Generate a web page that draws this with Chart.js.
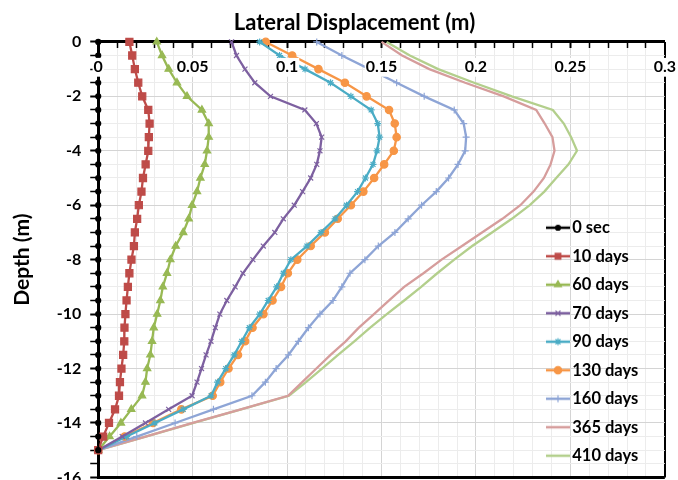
<!DOCTYPE html>
<html>
<head>
<meta charset="utf-8">
<script src="https://cdn.jsdelivr.net/npm/chart.js@4.4.0/dist/chart.umd.min.js"></script>
<style>
  html, body { margin: 0; padding: 0; background: #fff; overflow: hidden; }
  #wrap { position: relative; width: 678px; height: 496px; }
</style>
</head>
<body>
<div id="wrap"><canvas id="myChart"></canvas></div>
<script>
// depth of each reading (m)
var depths = [0, -0.5, -1, -1.5, -2, -2.5, -3, -3.5, -4, -4.5, -5, -5.5, -6, -6.5, -7, -7.5,
  -8, -8.5, -9, -9.5, -10, -10.5, -11, -11.5, -12, -12.5, -13, -13.5, -14, -14.5, -15];

// lateral displacement (m)
var sec0 = [0, 0, 0, 0, 0, 0, 0, 0, 0, 0, 0, 0, 0, 0, 0, 0, 0, 0, 0, 0, 0, 0, 0, 0, 0, 0, 0, 0, 0, 0, 0];
var days10 = [0.0165, 0.018, 0.0194, 0.0212, 0.0233, 0.0265, 0.0272, 0.0268, 0.0265, 0.0251, 0.0237, 0.0229, 0.0215, 0.0206, 0.0194, 0.0189,
  0.0176, 0.0165, 0.0157, 0.015, 0.0144, 0.0139, 0.0138, 0.0132, 0.0123, 0.0115, 0.011, 0.0089, 0.0057, 0.0026, 0];
var days60 = [0.031, 0.0338, 0.0373, 0.0417, 0.047, 0.0549, 0.0585, 0.0585, 0.0576, 0.0564, 0.0541, 0.0523, 0.0497, 0.0479, 0.045, 0.041,
  0.0382, 0.0364, 0.0342, 0.0329, 0.0312, 0.0294, 0.0285, 0.0276, 0.0259, 0.025, 0.0232, 0.0175, 0.012, 0.006, 0];
var days70 = [0.0706, 0.0732, 0.0777, 0.0829, 0.0912, 0.1094, 0.1155, 0.1183, 0.1174, 0.1157, 0.1125, 0.1082, 0.1038, 0.098, 0.0935, 0.0874,
  0.0819, 0.0766, 0.0725, 0.0681, 0.0644, 0.062, 0.0597, 0.0571, 0.0547, 0.0523, 0.0497, 0.0373, 0.025, 0.0127, 0];
var days90 = [0.0855, 0.096, 0.1095, 0.123, 0.1338, 0.1445, 0.148, 0.149, 0.1476, 0.1455, 0.1415, 0.1373, 0.1315, 0.1254, 0.118, 0.1105,
  0.102, 0.098, 0.0945, 0.09, 0.0855, 0.08, 0.076, 0.072, 0.0675, 0.0632, 0.0598, 0.045, 0.03, 0.015, 0];
var days130 = [0.0887, 0.1027, 0.1166, 0.1306, 0.1421, 0.154, 0.157, 0.158, 0.1565, 0.1514, 0.1461, 0.1404, 0.1338, 0.1268, 0.12, 0.1125,
  0.1054, 0.1004, 0.0968, 0.0923, 0.0875, 0.0817, 0.0778, 0.074, 0.069, 0.0646, 0.0606, 0.044, 0.029, 0.014, 0];
var days160 = [0.1157, 0.129, 0.1436, 0.158, 0.1726, 0.1885, 0.1935, 0.1948, 0.1943, 0.1905, 0.1855, 0.179, 0.1712, 0.1641, 0.1571, 0.1483,
  0.1412, 0.1333, 0.129, 0.1243, 0.1174, 0.1113, 0.106, 0.1007, 0.0942, 0.0885, 0.0814, 0.061, 0.0407, 0.0204, 0];
var days365 = [0.15, 0.1609, 0.1753, 0.1943, 0.2147, 0.2319, 0.2364, 0.2405, 0.2416, 0.2395, 0.236, 0.2305, 0.2235, 0.214, 0.2032, 0.1926,
  0.1818, 0.1722, 0.162, 0.154, 0.146, 0.138, 0.131, 0.123, 0.1155, 0.108, 0.1005, 0.0755, 0.05, 0.025, 0];
var days410 = [0.1527, 0.165, 0.18, 0.199, 0.219, 0.2407, 0.2465, 0.2504, 0.2535, 0.249, 0.2425, 0.2362, 0.2285, 0.219, 0.2085, 0.198,
  0.1885, 0.1795, 0.171, 0.162, 0.1528, 0.144, 0.1356, 0.127, 0.1185, 0.11, 0.101, 0.0757, 0.0505, 0.0252, 0];

var seriesNames = ["0 sec", "10 days", "60 days", "70 days", "90 days", "130 days", "160 days", "365 days", "410 days"];
var seriesValues = [sec0, days10, days60, days70, days90, days130, days160, days365, days410];

// styles
var seriesColors = ["#000000", "#BE4B48", "#98B954", "#7D60A0", "#4AACC5", "#F79646", "#8EA5D6", "#D69D9C", "#B3CF8C"];
var seriesMarkers = ["circle", "rect", "triangle", "crossRot", "star", "circle", "cross", "circle", "circle"];
var markerSizes = [2.5, 5, 4.2, 3.5, 3.5, 3.7, 3.5, 0, 0];

Chart.defaults.font.family = "Lato, 'DejaVu Sans', sans-serif";
Chart.defaults.font.weight = "bold";
Chart.defaults.color = "#000";

function legendIcon(color, style, radius) {
  var c = document.createElement("canvas");
  c.width = 24;
  c.height = 12;
  var g = c.getContext("2d");
  g.strokeStyle = color;
  g.lineWidth = 2.5;
  g.beginPath();
  g.moveTo(0, 6);
  g.lineTo(24, 6);
  g.stroke();
  if (radius > 0 && Chart.helpers && Chart.helpers.drawPoint) {
    g.fillStyle = color;
    g.lineWidth = 1.2;
    Chart.helpers.drawPoint(g, { pointStyle: style, radius: Math.min(radius, 4), rotation: 0, borderWidth: 1.2 }, 12, 6);
  }
  return c;
}

var datasets = seriesNames.map(function (name, i) {
  return {
    label: name,
    data: depths.map(function (d, k) { return { x: seriesValues[i][k], y: d }; }),
    showLine: true,
    borderColor: seriesColors[i],
    backgroundColor: seriesColors[i],
    borderWidth: i === 0 ? 2 : 2.3,
    pointStyle: seriesMarkers[i],
    pointRadius: markerSizes[i],
    pointBorderWidth: 1.2,
    pointHoverRadius: markerSizes[i],
    clip: false
  };
});

var legendIcons = seriesNames.map(function (n, i) {
  return legendIcon(seriesColors[i], seriesMarkers[i], markerSizes[i]);
});

// put the legend inside the plot, lower right, and centre the title like the original
var placeBoxes = {
  id: "placeBoxes",
  afterLayout: function (chart) {
    var lg = chart.legend;
    var w = lg.width, h = lg.height;
    lg.left = 540;
    lg.right = lg.left + w;
    lg.top = 207.5;
    lg.bottom = lg.top + h;
    var t = chart.titleBlock;
    if (t) {
      t.left = 31;
      t.right = 678;
    }
  }
};

var ctx = document.getElementById("myChart").getContext("2d");
var myChart = new Chart(ctx, {
  type: "scatter",
  data: { datasets: datasets },
  plugins: [placeBoxes],
  options: {
    responsive: true,
    maintainAspectRatio: false,
    animation: false,
    layout: { padding: { left: 4, right: 0, top: 0, bottom: 0 } },
    plugins: {
      tooltip: { enabled: false },
      title: {
        display: true,
        text: "Lateral Displacement (m)",
        font: { size: 22, weight: "bold" },
        color: "#000",
        padding: { top: 9.5, bottom: 6 }
      },
      legend: {
        position: "chartArea",
        align: "start",
        labels: {
          usePointStyle: true,
          pointStyleWidth: 12,
          padding: 12,
          color: "#000",
          font: { size: 16.5, weight: "bold" },
          generateLabels: function (chart) {
            return chart.data.datasets.map(function (ds, i) {
              return {
                text: ds.label,
                pointStyle: legendIcons[i],
                fillStyle: "transparent",
                strokeStyle: "transparent",
                lineWidth: 0,
                fontColor: "#000",
                hidden: false,
                datasetIndex: i
              };
            });
          }
        }
      }
    },
    scales: {
      x: {
        type: "linear",
        position: { y: 0 },
        min: 0,
        max: 0.3,
        border: { color: "#000", width: 3 },
        grid: {
          color: function (c) {
            if (!c.tick) return "#e6e6e6";
            var k = Math.round(c.tick.value * 100);
            if (k === 30) return "#000";
            return k % 5 === 0 ? "#d4d4d4" : "#ececec";
          },
          lineWidth: function (c) {
            return c.tick && Math.round(c.tick.value * 100) === 30 ? 2 : 1;
          },
          tickColor: "#000",
          tickLength: 5,
          tickWidth: function (c) {
            return c.tick && Math.round(c.tick.value * 100) % 5 === 0 ? 2 : 1.5;
          }
        },
        ticks: {
          stepSize: 0.01,
          autoSkip: false,
          maxRotation: 0,
          padding: 2,
          z: 1,
          color: "#000",
          font: { size: 16, weight: "bold", lineHeight: 2.3 },
          showLabelBackdrop: function (c) {
            return c.tick && Math.round(c.tick.value * 100) % 5 === 0;
          },
          backdropColor: "#fff",
          backdropPadding: { top: -9, bottom: -9, left: 1, right: 1 },
          callback: function (v) {
            var k = Math.round(v * 100);
            return k % 5 === 0 ? String(k / 100) : "";
          }
        }
      },
      y: {
        type: "linear",
        position: "left",
        min: -16,
        max: 0,
        border: { color: "#000", width: 3 },
        title: {
          display: true,
          text: "Depth (m)",
          color: "#000",
          font: { size: 21, weight: "bold" },
          padding: { top: 5.5, bottom: 13 }
        },
        grid: {
          color: function (c) {
            if (!c.tick) return "#e6e6e6";
            var v = c.tick.value;
            if (v <= -16) return "#000";
            return Math.round(v * 2) % 4 === 0 ? "#d4d4d4" : "#ececec";
          },
          lineWidth: function (c) {
            return c.tick && c.tick.value <= -16 ? 3 : 1;
          },
          tickColor: "#000",
          tickLength: 8,
          tickWidth: function (c) {
            return c.tick && Math.round(c.tick.value * 2) % 4 === 0 ? 2 : 1.5;
          }
        },
        ticks: {
          stepSize: 0.5,
          autoSkip: false,
          padding: 9,
          color: "#000",
          font: { size: 16, weight: "bold" },
          callback: function (v) {
            return Math.round(v * 2) % 4 === 0 ? String(v) : "";
          }
        }
      }
    }
  }
});
</script>
</body>
</html>
